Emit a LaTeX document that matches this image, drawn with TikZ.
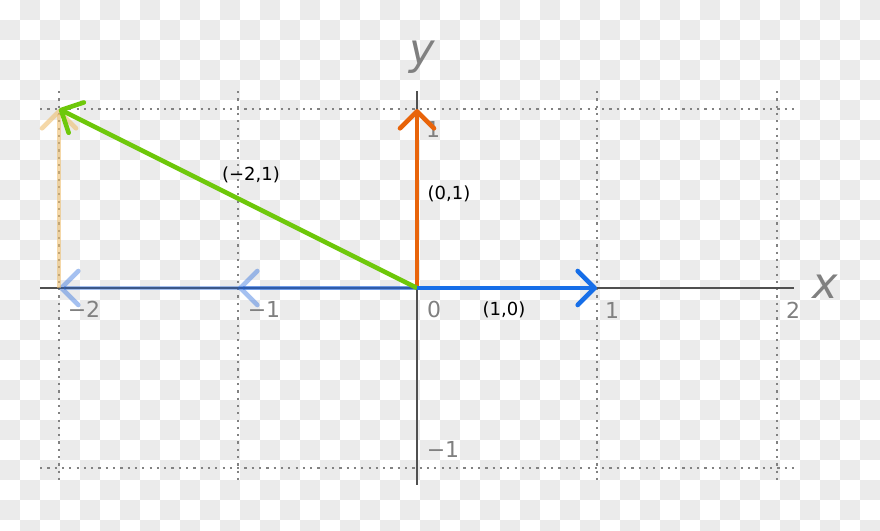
\documentclass[tikz,border=0pt]{standalone}
\usepackage{fontspec}
\setmainfont{DejaVu Sans}
\usetikzlibrary{arrows.meta}
\definecolor{chk}{RGB}{235,235,235}
\definecolor{vblue}{RGB}{22,110,232}
\definecolor{fblue}{RGB}{30,100,220}
\definecolor{vorange}{RGB}{232,100,10}
\definecolor{forange}{RGB}{238,190,110}
\definecolor{vgreen}{RGB}{110,200,10}
\definecolor{axisgray}{RGB}{80,80,80}
\definecolor{gridgray}{RGB}{130,130,130}
\definecolor{tickgray}{RGB}{128,128,128}
\tikzset{
  gridline/.style={gridgray, line width=2.2pt, dash pattern=on 2.2pt off 5.1pt},
  axisline/.style={axisgray, line width=2.4pt},
  vec/.style={line width=4.6pt, -{Straight Barb[length=17pt,width=34pt,round]}},
  ticklbl/.style={tickgray, font=\fontsize{22}{24}\selectfont, inner sep=0pt},
  veclbl/.style={black, font=\fontsize{18}{20}\selectfont, inner sep=0pt},
  axlbl/.style={tickgray, font=\fontsize{43}{46}\selectfont\itshape, inner sep=0pt}
}
\begin{document}
\begin{tikzpicture}[x=1pt,y=-1pt]
\useasboundingbox (0,0) rectangle (880,530);
\clip (0,0) rectangle (880,530);
% checkerboard background
\foreach \i in {0,...,43}{
  \foreach \j in {0,...,26}{
    \pgfmathtruncatemacro\pp{mod(\i+\j,2)}
    \ifnum\pp=1 \fill[chk] (20*\i,20*\j) rectangle ++(20,20); \fi
  }
}
% grid
\draw[gridline] (40,109) -- (794,109);
\draw[gridline] (40,468) -- (794,468);
\foreach \gx in {59,238,597,777}{
  \draw[gridline] (\gx,91) -- (\gx,485);
}
% axes
\draw[axisline] (40,288) -- (794,288);
\draw[axisline] (417,91) -- (417,485);
% coordinates
\coordinate (O) at (417,288);
\coordinate (e1) at (597,288);
\coordinate (e2) at (417,109);
\coordinate (m1) at (238,288);
\coordinate (m2) at (59,288);
\coordinate (v) at (59,109);
% tick labels
\node[ticklbl] (tm2) at (84,309) {−2};
\node[ticklbl] (tm1) at (264,309) {−1};
\node[ticklbl] (t0) at (434,309) {0};
\node[ticklbl] (t1) at (612,310) {1};
\node[ticklbl] (t2) at (793,310) {2};
\node[ticklbl] (ty1) at (433,129) {1};
\node[ticklbl] (tym1) at (443,449) {−1};
% faded vectors
\draw[vec, fblue, opacity=0.4] (O) -- (m1);
\draw[vec, fblue, opacity=0.4] (O) -- (m2);
\draw[vec, forange, opacity=0.6] (m2) -- (v);
% main vectors
\draw[vec, vorange] (O) -- (e2);
\draw[vec, vgreen] (O) -- (v);
\draw[vec, vblue] (O) -- (e1);
% vector labels
\node[veclbl] (l10) at (504,310) {(1,0)};
\node[veclbl] (l01) at (449,194) {(0,1)};
\node[veclbl] (lv) at (251,175) {(−2,1)};
% axis labels
\node[axlbl] (ax) at (825,287) {x};
\node[axlbl] (ay) at (422,57) {y};
\end{tikzpicture}
\end{document}
